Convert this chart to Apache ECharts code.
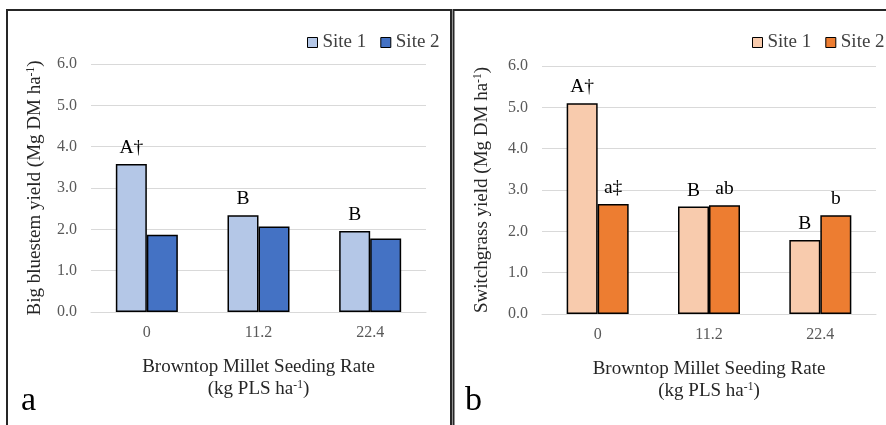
<!DOCTYPE html>
<html>
<head>
<meta charset="utf-8">
<script src="https://cdn.jsdelivr.net/npm/echarts@6/dist/echarts.min.js"></script>
<style>
html,body{margin:0;padding:0;background:#fff;}
#c{width:886px;height:425px;}
</style>
</head>
<body>
<div id="c"></div>
<script>
// ---- data ----
const categories = ['0', '11.2', '22.4'];
const seriesNames = ['Site 1', 'Site 2'];
const bluestemSite1 = [3.58, 2.34, 1.96];
const bluestemSite2 = [1.87, 2.07, 1.78];
const switchgrassSite1 = [5.10, 2.60, 1.79];
const switchgrassSite2 = [2.66, 2.63, 2.39];
const bluestemLetters1 = ['A†', 'B', 'B'];
const bluestemLetters2 = ['', '', ''];
const switchLetters1 = ['A†', 'B', 'B'];
const switchLetters2 = ['a‡', 'ab', 'b'];
const yTicks = [0, 1, 2, 3, 4, 5, 6];

const FONT = '"Liberation Serif", "Times New Roman", serif';
const chart = echarts.init(document.getElementById('c'), null, {renderer: 'canvas'});

const supRich = {
  n: {fontFamily: FONT, fontSize: 19, color: '#262626', lineHeight: 22},
  s: {fontFamily: FONT, fontSize: 11.5, color: '#262626', padding: [0, 0, 9, 0], lineHeight: 22}
};

function yAxisCfg(gridIndex, name, gap) {
  return {
    type: 'value', gridIndex, min: yTicks[0], max: yTicks[yTicks.length - 1], interval: 1,
    axisLine: {show: false}, axisTick: {show: false},
    axisLabel: {fontFamily: FONT, fontSize: 16, color: '#595959', margin: 14,
      formatter: v => v.toFixed(1)},
    splitLine: {lineStyle: {color: '#D9D9D9', width: 1}},
    name: name, nameLocation: 'middle', nameGap: gap,
    nameTextStyle: {rich: supRich}
  };
}
function xAxisCfg(gridIndex) {
  return {
    type: 'category', gridIndex, data: categories,
    axisLine: {lineStyle: {color: '#D9D9D9', width: 1}},
    axisTick: {show: false},
    axisLabel: {fontFamily: FONT, fontSize: 16, color: '#595959', margin: 13},
    name: '{n|Browntop Millet Seeding Rate}\n{n|(kg PLS ha}{s|-1}{n|)}',
    nameLocation: 'middle', nameGap: 44,
    nameTextStyle: {rich: supRich, align: 'center'}
  };
}
function barSeries(name, data, letters, color, idx) {
  return {
    name, type: 'bar', xAxisIndex: idx, yAxisIndex: idx, data,
    barWidth: 31, barGap: '0%',
    itemStyle: {color, borderColor: '#000', borderWidth: 1.5},
    label: {show: true, position: 'top', distance: 6,
      fontFamily: FONT, fontSize: 19.5, color: '#000',
      formatter: p => letters[p.dataIndex]}
  };
}
const legendCommon = {
  orient: 'horizontal', padding: 0, width: 300,
  icon: 'rect', itemWidth: 10, itemHeight: 10, itemGap: 14,
  itemStyle: {borderColor: '#000', borderWidth: 1},
  textStyle: {fontFamily: FONT, fontSize: 19, color: '#404040'}
};

chart.setOption({
  animation: false,
  backgroundColor: '#fff',
  grid: [
    {left: 91, top: 64, width: 335, height: 248},
    {left: 542, top: 66, width: 334, height: 248}
  ],
  legend: [
    Object.assign({}, legendCommon, {data: seriesNames.slice(), left: 307, top: 33}),
    Object.assign({}, legendCommon, {data: seriesNames.map(n => n + ' '), left: 752, top: 33,
      formatter: n => n.trim()})
  ],
  xAxis: [xAxisCfg(0), xAxisCfg(1)],
  yAxis: [
    yAxisCfg(0, '{n|Big bluestem yield (Mg DM ha}{s|-1}{n|)}', 45),
    yAxisCfg(1, '{n|Switchgrass yield (Mg DM ha}{s|-1}{n|)}', 49)
  ],
  series: [
    barSeries(seriesNames[0], bluestemSite1, bluestemLetters1, '#B4C7E7', 0),
    barSeries(seriesNames[1], bluestemSite2, bluestemLetters2, '#4472C4', 0),
    barSeries(seriesNames[0] + ' ', switchgrassSite1, switchLetters1, '#F8CBAD', 1),
    barSeries(seriesNames[1] + ' ', switchgrassSite2, switchLetters2, '#ED7D31', 1)
  ],
  graphic: [
    {type: 'rect', shape: {x: 7, y: 10, width: 444, height: 430},
      style: {fill: null, stroke: '#262626', lineWidth: 2}, silent: true, z: 100},
    {type: 'rect', shape: {x: 453.5, y: 10, width: 450, height: 430},
      style: {fill: null, stroke: '#262626', lineWidth: 2}, silent: true, z: 100},
    {type: 'text', left: 21, top: 384,
      style: {text: 'a', font: '34px ' + FONT, fill: '#000'}},
    {type: 'text', left: 465, top: 384,
      style: {text: 'b', font: '34px ' + FONT, fill: '#000'}}
  ]
});
</script>
</body>
</html>
